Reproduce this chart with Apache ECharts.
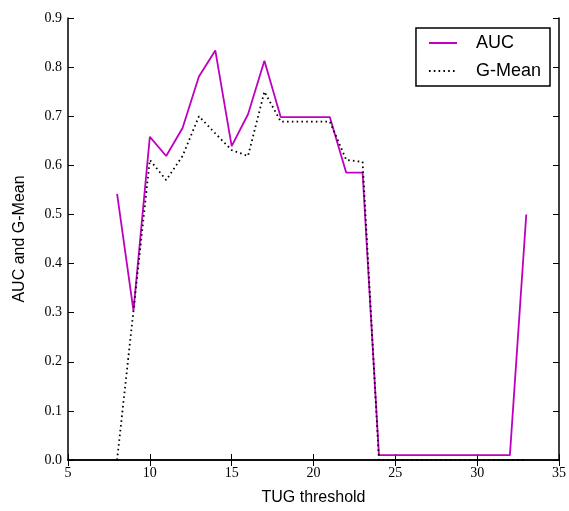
<!DOCTYPE html>
<html><head><meta charset="utf-8">
<script src="https://cdn.jsdelivr.net/npm/echarts@6/dist/echarts.min.js"></script>
<style>html,body{margin:0;padding:0;background:#fff}#c{width:569px;height:511px}</style>
</head><body><div id="c"></div>
<script>
const thresholds = [8,9,10,11,12,13,14,15,16,17,18,19,20,21,22,23,24,25,26,27,28,29,30,31,32,33];
const auc   = [0.542,0.304,0.658,0.619,0.676,0.781,0.834,0.639,0.704,0.813,0.698,0.698,0.698,0.698,0.585,0.585,0.01,0.01,0.01,0.01,0.01,0.01,0.01,0.01,0.01,0.5];
const gmean = [0.0,0.304,0.611,0.570,0.619,0.700,0.665,0.631,0.619,0.750,0.689,0.689,0.689,0.689,0.611,0.607,0.0,0.0,0.0,0.0,0.0,0.0,0.0,0.0,0.0,0.0];
const xTicks = [5,10,15,20,25,30,35];
const yTicks = [0.0,0.1,0.2,0.3,0.4,0.5,0.6,0.7,0.8,0.9];

const serif = 'Liberation Serif';
const sans = 'Liberation Sans';
const chart = echarts.init(document.getElementById('c'), null, {renderer:'canvas'});
const axLine = {show:true, lineStyle:{color:'#000', width:1.5}};
const tickIn = {show:true, inside:true, length:6, lineStyle:{color:'#000', width:1}};
chart.setOption({
  animation:false,
  backgroundColor:'#fff',
  grid:{left:68, right:9, top:18, bottom:50, containLabel:false},
  legend:{
    right:19, top:28, orient:'vertical', itemWidth:28, itemHeight:10, itemGap:10,
    borderColor:'#000', borderWidth:1.5, borderRadius:0, padding:[6,9,6,12],
    itemStyle:{opacity:0},
    textStyle:{fontFamily:sans, fontSize:18, color:'#000', padding:[0,0,0,14]},
    data:[{name:'AUC'},{name:'G-Mean'}]
  },
  xAxis:[{
    type:'value', min:xTicks[0], max:xTicks[xTicks.length-1], interval:5,
    name:'TUG threshold', nameLocation:'middle', nameGap:30,
    nameTextStyle:{fontFamily:sans, fontSize:16, color:'#000'},
    axisLine:axLine, axisTick:tickIn,
    axisLabel:{fontFamily:serif, fontSize:14, color:'#000', margin:6},
    splitLine:{show:false}
  },{
    type:'value', position:'top', min:5, max:35, interval:5,
    axisLine:axLine, axisTick:tickIn, axisLabel:{show:false}, splitLine:{show:false}
  }],
  yAxis:[{
    type:'value', min:0, max:0.9, interval:0.1,
    name:'AUC and G-Mean', nameLocation:'middle', nameGap:40, nameRotate:90,
    nameTextStyle:{fontFamily:sans, fontSize:16, color:'#000'},
    axisLine:axLine, axisTick:tickIn,
    axisLabel:{fontFamily:serif, fontSize:14, color:'#000', margin:6, formatter:v=>v.toFixed(1)},
    splitLine:{show:false}
  },{
    type:'value', position:'right', min:0, max:0.9, interval:0.1,
    axisLine:axLine, axisTick:tickIn, axisLabel:{show:false}, splitLine:{show:false}
  }],
  series:[{
    name:'AUC', type:'line', symbol:'none', z:3,
    data:thresholds.map((t,i)=>[t,auc[i]]),
    lineStyle:{color:'#bf00bf', width:1.8}, itemStyle:{color:'#bf00bf'}
  },{
    name:'G-Mean', type:'line', symbol:'none', z:4,
    data:thresholds.map((t,i)=>[t,gmean[i]]),
    lineStyle:{color:'#000', width:1.8, type:[1.6,3.2]}, itemStyle:{color:'#000'}
  }]
});
</script></body></html>
